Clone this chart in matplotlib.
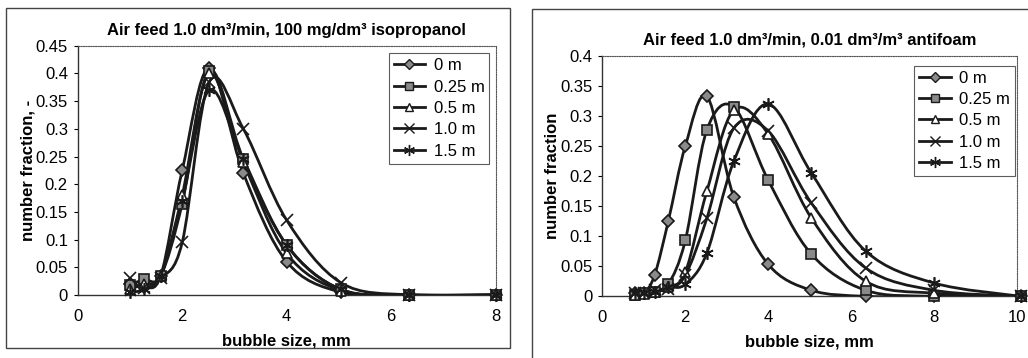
import numpy as np
import matplotlib
matplotlib.use("Agg")
import matplotlib.pyplot as plt
from matplotlib.path import Path
from matplotlib.patches import PathPatch, Rectangle
from matplotlib.lines import Line2D

plt.rcParams['font.family'] = ['Liberation Sans', 'DejaVu Sans']

labels = ['0 m', '0.25 m', '0.5 m', '1.0 m', '1.5 m']
markers = ['D', 's', '^', 'x', (6, 2, 0)]
mfaces = ['#8a8a8a', '#8a8a8a', 'white', 'none', 'none']
msizes = [6, 7, 6.5, 8, 9]

# isopropanol panel
x_iso = [1.0, 1.26, 1.59, 2.0, 2.52, 3.17, 4.0, 5.04, 6.35, 8.0]
iso_0 = [0.020, 0.015, 0.035, 0.225, 0.410, 0.220, 0.060, 0.005, 0.0, 0.0]
iso_025 = [0.018, 0.028, 0.035, 0.165, 0.405, 0.245, 0.090, 0.010, 0.0, 0.0]
iso_05 = [0.010, 0.020, 0.035, 0.180, 0.400, 0.240, 0.075, 0.008, 0.0, 0.0]
iso_10 = [0.030, 0.012, 0.030, 0.095, 0.385, 0.300, 0.135, 0.022, 0.0, 0.0]
iso_15 = [0.005, 0.010, 0.035, 0.170, 0.370, 0.245, 0.090, 0.010, 0.0, 0.0]

# antifoam panel
x_af = [0.79, 1.0, 1.26, 1.59, 2.0, 2.52, 3.17, 4.0, 5.04, 6.35, 8.0, 10.08]
af_0 = [0.005, 0.005, 0.035, 0.125, 0.250, 0.333, 0.165, 0.053, 0.010, 0.0, 0.0, 0.0]
af_025 = [0.003, 0.005, 0.008, 0.020, 0.093, 0.277, 0.315, 0.193, 0.070, 0.010, 0.0, 0.0]
af_05 = [0.003, 0.004, 0.008, 0.015, 0.040, 0.175, 0.310, 0.270, 0.130, 0.025, 0.005, 0.0]
af_10 = [0.005, 0.005, 0.010, 0.012, 0.035, 0.130, 0.280, 0.275, 0.155, 0.047, 0.010, 0.0]
af_15 = [0.005, 0.005, 0.008, 0.015, 0.020, 0.072, 0.225, 0.320, 0.205, 0.075, 0.022, 0.0]


def smooth_path(x, y):
    # excel-like smoothed line: bezier segments through the data points
    x = np.asarray(x, float)
    y = np.asarray(y, float)
    pts = np.column_stack([x, y])
    verts = [pts[0]]
    codes = [Path.MOVETO]
    n = len(pts)
    for i in range(n - 1):
        p0 = pts[i - 1] if i > 0 else pts[i]
        p1 = pts[i]
        p2 = pts[i + 1]
        p3 = pts[i + 2] if i + 2 < n else pts[i + 1]
        c1 = p1 + (p2 - p0) / 6.0
        c2 = p2 - (p3 - p1) / 6.0
        verts += [c1, c2, p2]
        codes += [Path.CURVE4] * 3
    return Path(verts, codes)


def panel(ax, x, series, xmax, xticks, ymax, ystep, title, ylabel, leg_anchor):
    for i, y in enumerate(series):
        ax.add_patch(PathPatch(smooth_path(x, y), fill=False, edgecolor='#1a1a1a',
                               lw=2.0, zorder=3))
        ax.plot(x, y, ls='none', marker=markers[i], ms=msizes[i],
                mfc=mfaces[i], mec='#1a1a1a', mew=1.2, zorder=4, clip_on=False)
    ax.set_xlim(0, xmax)
    ax.set_ylim(0, ymax)
    ax.set_xticks(xticks)
    yt = np.arange(0, ymax + 1e-9, ystep)
    ax.set_yticks(yt)
    ax.set_yticklabels(['0' if v == 0 else ('%g' % round(v, 2)) for v in yt])
    ax.tick_params(axis='y', length=3, direction='out', labelsize=12, pad=4)
    ax.tick_params(axis='x', length=0, labelsize=12, pad=10)
    for s in ['top', 'right']:
        ax.spines[s].set_linestyle((0, (1, 1.2)))
        ax.spines[s].set_linewidth(0.8)
        ax.spines[s].set_color('#555555')
    for s in ['left', 'bottom']:
        ax.spines[s].set_linewidth(1.0)
        ax.spines[s].set_color('#333333')
    ax.set_title(title, fontsize=12, fontweight='bold', pad=8)
    ax.set_xlabel('bubble size, mm', fontsize=12, fontweight='bold', labelpad=7)
    ax.set_ylabel(ylabel, fontsize=12, fontweight='bold', labelpad=0)
    handles = [Line2D([0], [0], color='#1a1a1a', lw=2.0, marker=markers[i],
                      ms=msizes[i] - 1, mfc=mfaces[i], mec='#1a1a1a')
               for i in range(len(labels))]
    leg = ax.legend(handles, labels, loc='upper right', bbox_to_anchor=leg_anchor,
                    fontsize=12, frameon=True, fancybox=False, edgecolor='#333333',
                    handlelength=1.9, borderpad=0.3, labelspacing=0.38,
                    handletextpad=0.5, borderaxespad=0)
    leg.get_frame().set_linewidth(0.8)


fig = plt.figure(figsize=(10.28, 3.58), dpi=100)

# outer chart frames
fig.add_artist(Rectangle((6 / 1028, 1 - 348 / 358), 504 / 1028, 340 / 358,
                         transform=fig.transFigure, fill=False, ec='#444444', lw=1.0))
fig.add_artist(Rectangle((532 / 1028, -0.05), 0.6, 1 - 9 / 358 + 0.05,
                         transform=fig.transFigure, fill=False, ec='#444444', lw=1.0))

ax1 = fig.add_axes([0.0756, 0.176, 0.4066, 0.6963])
panel(ax1, x_iso, [iso_0, iso_025, iso_05, iso_10, iso_15], 8, [0, 2, 4, 6, 8],
      0.45, 0.05, 'Air feed 1.0 dm³/min, 100 mg/dm³ isopropanol',
      'number fraction, -', (0.985, 0.97))

ax2 = fig.add_axes([0.5859, 0.1723, 0.4037, 0.6713])
panel(ax2, x_af, [af_0, af_025, af_05, af_10, af_15], 10, [0, 2, 4, 6, 8, 10],
      0.4, 0.05, 'Air feed 1.0 dm³/min, 0.01 dm³/m³ antifoam',
      'number fraction', (0.995, 0.96))

fig.savefig('out.png', dpi=100)
